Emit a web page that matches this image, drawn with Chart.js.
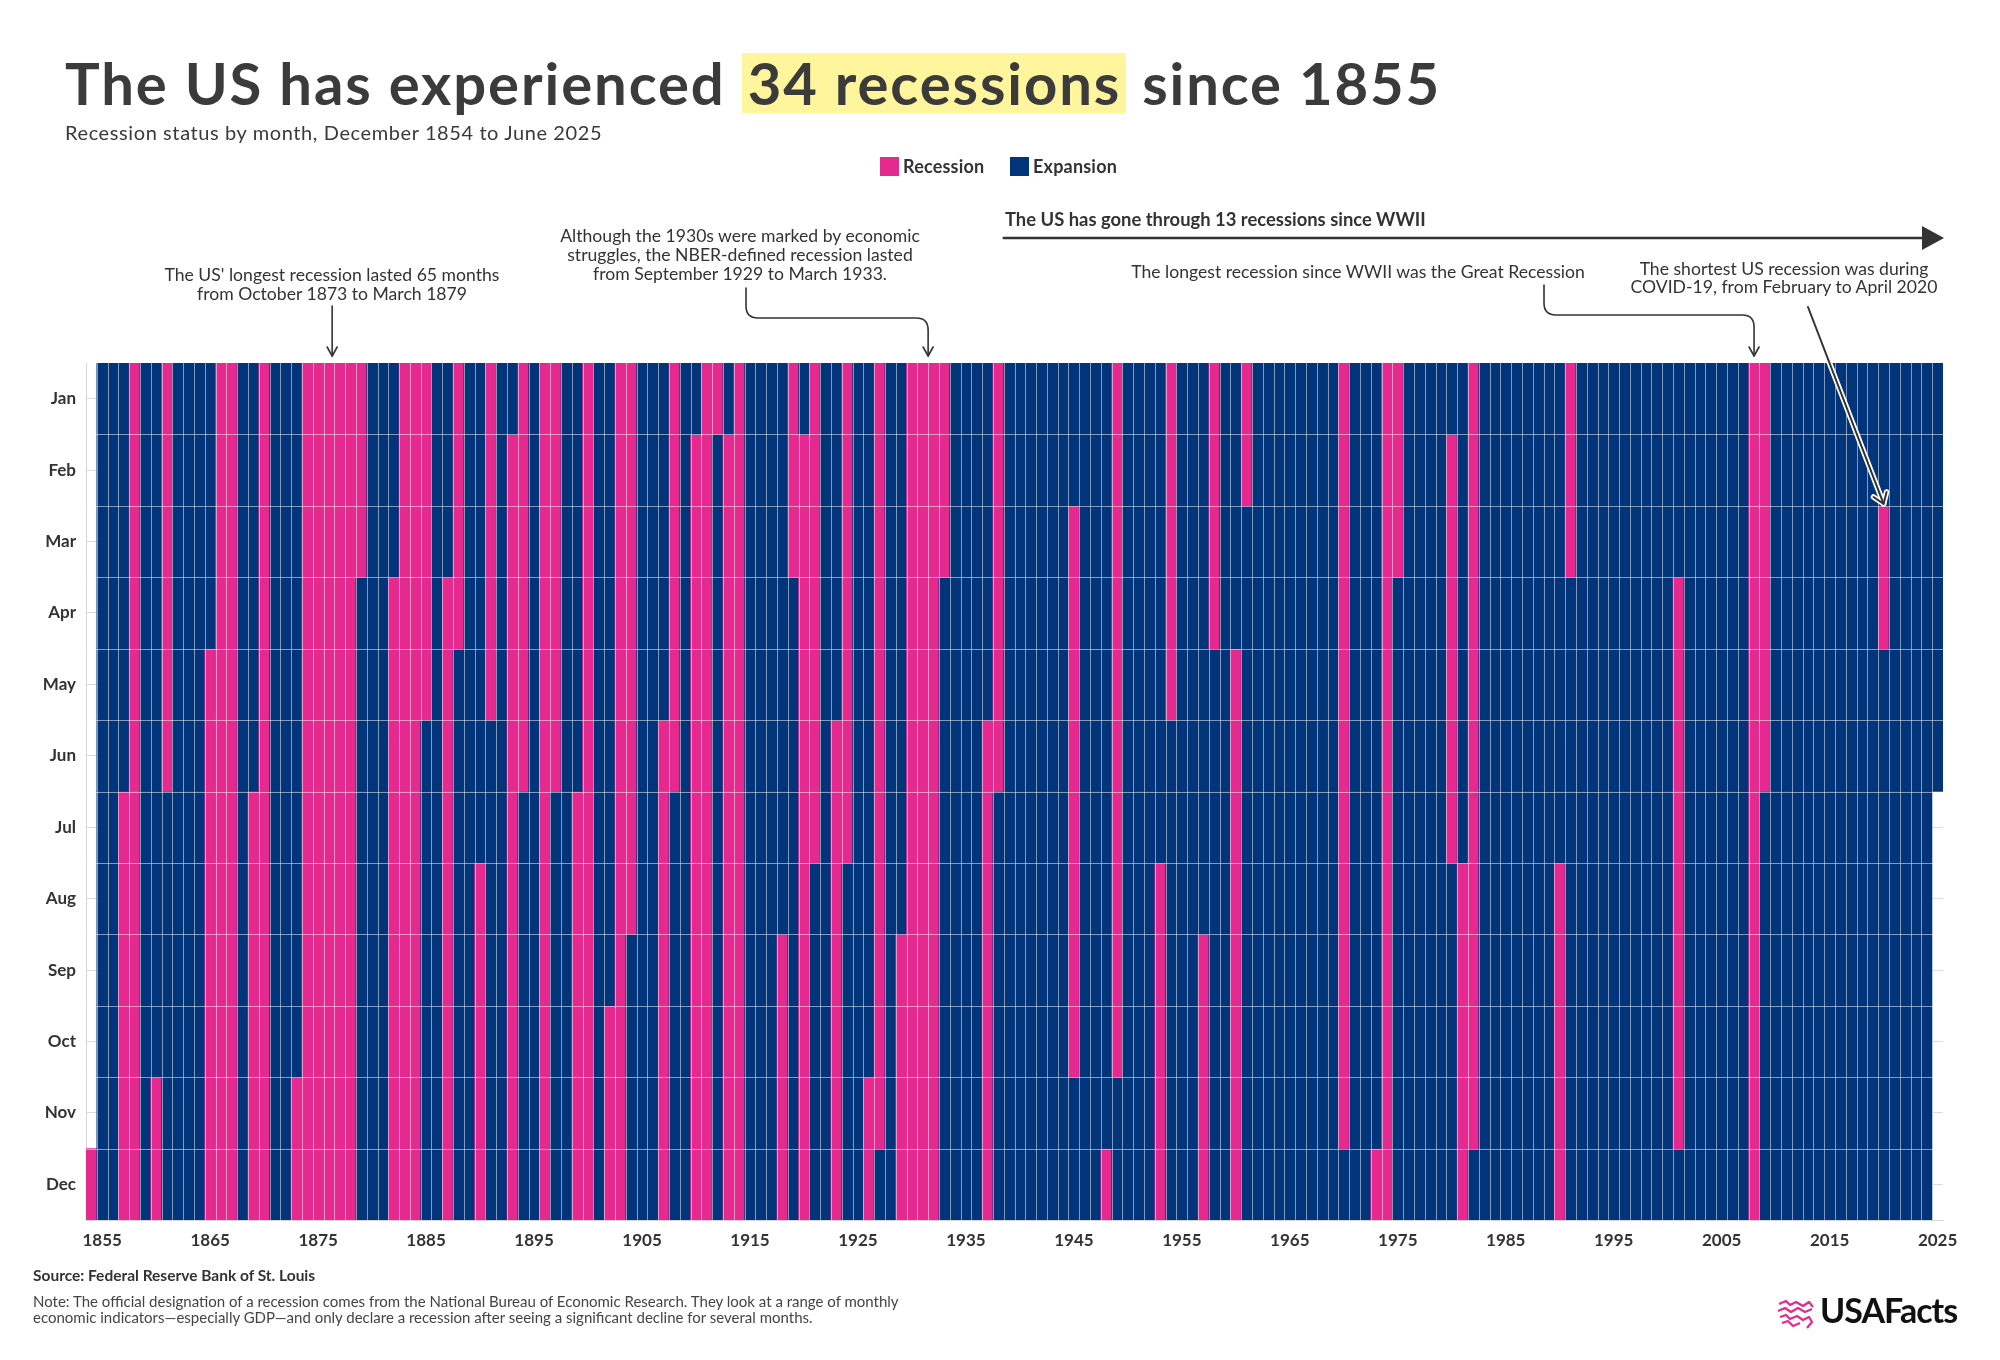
<!DOCTYPE html>
<html>
<head>
<meta charset="utf-8">
<script src="https://cdn.jsdelivr.net/npm/chart.js@4.4.1/dist/chart.umd.min.js"></script>
<style>
html, body { margin: 0; padding: 0; background: #fff; }
#page { position: relative; width: 2000px; height: 1360px; overflow: hidden; font-family: Lato, sans-serif; color: #333; }
#chartBox { position: absolute; left: 0; top: 0; width: 2000px; height: 1360px; }
.abs { position: absolute; white-space: nowrap; }
#title { left: 65px; top: 53px; font-size: 58px; font-weight: 700; color: #3b3b3b; line-height: 60px; letter-spacing: 1.9px; }
#title .hl { display: inline-block; background: #fff59d; padding: 0 5px 0 6px; line-height: 60px; }
#subtitle { left: 65px; top: 120px; font-size: 20px; color: #3a3a3a; letter-spacing: 0.6px; }
.legend { top: 157px; font-size: 18px; font-weight: 700; color: #333; line-height: 19px; letter-spacing: 0.2px; }
.legend i { display: inline-block; width: 19px; height: 19px; vertical-align: top; margin-right: 4px; }
.note { font-size: 17.6px; color: #333; text-align: center; line-height: 19px; }
#source { left: 33px; top: 1266px; font-size: 15.5px; font-weight: 700; color: #333; }
#footnote { left: 33px; top: 1294px; font-size: 15px; color: #444; line-height: 15.5px; }
#logo { left: 1776px; top: 1290px; font-size: 34px; font-weight: 700; color: #111; letter-spacing: -1px; line-height: 40px; }
#logo svg { vertical-align: middle; margin-right: 4px; }
</style>
</head>
<body>
<div id="page">
  <div id="chartBox"><canvas id="myChart"></canvas></div>

  <div id="title" class="abs">The US has experienced <span class="hl">34 recessions</span> since 1855</div>
  <div id="subtitle" class="abs">Recession status by month, December 1854 to June 2025</div>
  <div class="abs legend" style="left:880px"><i style="background:#e5298e"></i>Recession</div>
  <div class="abs legend" style="left:1010px"><i style="background:#023479"></i>Expansion</div>

  <div class="abs note" style="left:132px; top:265px; width:400px">The US' longest recession lasted 65 months<br>from October 1873 to March 1879</div>
  <div class="abs note" style="left:540px; top:226px; width:400px">Although the 1930s were marked by economic<br>struggles, the NBER-defined recession lasted<br>from September 1929 to March 1933.</div>
  <div class="abs" style="left:1005px; top:208px; font-size:18.4px; font-weight:700; color:#333">The US has gone through 13 recessions since WWII</div>
  <div class="abs note" style="left:1108px; top:262px; width:500px">The longest recession since WWII was the Great Recession</div>
  <div class="abs note" style="left:1614px; top:260px; width:340px; line-height:18px">The shortest US recession was during<br>COVID-19, from February to April 2020</div>

  <div id="source" class="abs">Source: Federal Reserve Bank of St. Louis</div>
  <div id="footnote" class="abs">Note: The official designation of a recession comes from the National Bureau of Economic Research. They look at a range of monthly<br>economic indicators—especially GDP—and only declare a recession after seeing a significant decline for several months.</div>
  <div id="logo" class="abs"><svg width="40" height="32" viewBox="0 0 40 32"><path d="M3 6 L10 3 L14 7 L20 4 L27 8 L33 4 L37 9 M2 13 L9 10 L15 14 L22 10 L29 14 L36 11 M4 19 L10 17 L14 21 L21 18 L27 22 L33 19 L36 24 L31 30 M6 25 L12 23 L17 28 L24 25" fill="none" stroke="#e5298e" stroke-width="2.2" stroke-linejoin="round"/></svg>USAFacts</div>
</div>

<script>
const months = ['Jan', 'Feb', 'Mar', 'Apr', 'May', 'Jun', 'Jul', 'Aug', 'Sep', 'Oct', 'Nov', 'Dec']
const firstYear = 1854
const lastYear = 2025
const dataStart = '1854-12'
const dataEnd = '2025-06'

// NBER recession months (month after the peak through the trough)
const recessionStarts = ['1854-12', '1857-07', '1860-11', '1865-05', '1869-07', '1873-11', '1882-04', '1887-04',
    '1890-08', '1893-02', '1896-01', '1899-07', '1902-10', '1907-06', '1910-02', '1913-02', '1918-09', '1920-02',
    '1923-06', '1926-11', '1929-09', '1937-06', '1945-03', '1948-12', '1953-08', '1957-09', '1960-05', '1970-01',
    '1973-12', '1980-02', '1981-08', '1990-08', '2001-04', '2008-01', '2020-03']
const recessionEnds = ['1854-12', '1858-12', '1861-06', '1867-12', '1870-12', '1879-03', '1885-05', '1888-04',
    '1891-05', '1894-06', '1897-06', '1900-12', '1904-08', '1908-06', '1912-01', '1914-12', '1919-03', '1921-07',
    '1924-07', '1927-11', '1933-03', '1938-06', '1945-10', '1949-10', '1954-05', '1958-04', '1961-02', '1970-11',
    '1975-03', '1980-07', '1982-11', '1991-03', '2001-11', '2009-06', '2020-04']

const colors = { recession: '#e5298e', expansion: '#023479', text: '#333', axis: '#d6d6d6' }

const ym = (s) => { const [y, m] = s.split('-').map(Number); return y * 12 + m - 1 }
const years = []
for (let y = firstYear; y <= lastYear; y++) years.push(String(y))

function cellState(year, mi) {
    const k = year * 12 + mi
    if (k < ym(dataStart) || k > ym(dataEnd)) return null
    for (let i = 0; i < recessionStarts.length; i++) {
        if (k >= ym(recessionStarts[i]) && k <= ym(recessionEnds[i])) return 'recession'
    }
    return 'expansion'
}

const datasets = months.map((m, mi) => ({
    label: m,
    data: years.map(y => cellState(+y, mi) ? [mi, mi + 1] : null),
    backgroundColor: years.map(y => colors[cellState(+y, mi) || 'expansion']),
    borderWidth: 0,
    grouped: false,
    barPercentage: 1,
    categoryPercentage: 1
}))

const separators = {
    id: 'separators',
    afterDatasetsDraw(chart) {
        const { ctx, chartArea: a, scales: { x, y } } = chart
        ctx.save()
        ctx.strokeStyle = 'rgba(255,255,255,0.5)'
        ctx.lineWidth = 1
        ctx.beginPath()
        for (let i = 1; i < years.length; i++) {
            const px = Math.round((x.getPixelForValue(i - 1) + x.getPixelForValue(i)) / 2) + 0.5
            ctx.moveTo(px, a.top); ctx.lineTo(px, a.bottom)
        }
        for (let r = 1; r < 12; r++) {
            const py = Math.round(y.getPixelForValue(r)) + 0.5
            ctx.moveTo(a.left, py); ctx.lineTo(a.right, py)
        }
        ctx.stroke()
        ctx.restore()
    }
}

function chevron(ctx, x, y, w, h) {
    ctx.beginPath()
    ctx.moveTo(x - w, y - h); ctx.lineTo(x, y); ctx.lineTo(x + w, y - h)
    ctx.stroke()
}

const arrows = {
    id: 'arrows',
    afterDraw(chart) {
        const { ctx, chartArea: a, scales: { x, y } } = chart
        const colW = x.getPixelForValue(1) - x.getPixelForValue(0)
        const col = (yr) => x.getPixelForValue(yr - firstYear)
        const tipY = a.top - 7
        ctx.save()
        ctx.strokeStyle = '#333'
        ctx.fillStyle = '#333'
        ctx.lineWidth = 1.6
        ctx.lineCap = 'round'
        ctx.lineJoin = 'round'

        // 1873-1879 recession
        const x1 = col(1876) + colW * 0.3
        ctx.beginPath(); ctx.moveTo(x1, 306); ctx.lineTo(x1, tipY); ctx.stroke()
        chevron(ctx, x1, tipY, 5, 9)

        // Great Depression
        const x2 = col(1931) + colW / 2
        ctx.beginPath()
        ctx.moveTo(746, 288); ctx.lineTo(746, 306)
        ctx.quadraticCurveTo(746, 318, 758, 318)
        ctx.lineTo(x2 - 12, 318)
        ctx.quadraticCurveTo(x2, 318, x2, 330)
        ctx.lineTo(x2, tipY)
        ctx.stroke()
        chevron(ctx, x2, tipY, 5, 9)

        // Great Recession
        const x4 = col(2008)
        ctx.beginPath()
        ctx.moveTo(1544, 285); ctx.lineTo(1544, 303)
        ctx.quadraticCurveTo(1544, 315, 1556, 315)
        ctx.lineTo(x4 - 12, 315)
        ctx.quadraticCurveTo(x4, 315, x4, 327)
        ctx.lineTo(x4, tipY)
        ctx.stroke()
        chevron(ctx, x4, tipY, 5, 9)

        // Since WWII
        const x3 = col(1939) - colW / 2
        ctx.lineWidth = 2.5
        ctx.beginPath(); ctx.moveTo(x3, 238); ctx.lineTo(a.right - 18, 238); ctx.stroke()
        ctx.beginPath()
        ctx.moveTo(a.right + 1, 238); ctx.lineTo(a.right - 21, 226); ctx.lineTo(a.right - 21, 250); ctx.closePath()
        ctx.fill()

        // COVID-19
        const x5 = col(2020)
        const y5 = y.getPixelForValue(2) - 2
        const sx = 1808, sy = 307
        const ang = Math.atan2(y5 - sy, x5 - sx)
        const hw = 7, hl = 10
        const hx1 = x5 - hl * Math.cos(ang) + hw * Math.sin(ang), hy1 = y5 - hl * Math.sin(ang) - hw * Math.cos(ang)
        const hx2 = x5 - hl * Math.cos(ang) - hw * Math.sin(ang), hy2 = y5 - hl * Math.sin(ang) + hw * Math.cos(ang)
        const drawCovid = () => {
            ctx.beginPath(); ctx.moveTo(sx, sy); ctx.lineTo(x5, y5); ctx.stroke()
            ctx.beginPath(); ctx.moveTo(hx1, hy1); ctx.lineTo(x5, y5); ctx.lineTo(hx2, hy2); ctx.stroke()
        }
        ctx.strokeStyle = '#fff'; ctx.lineWidth = 5.5
        drawCovid()
        ctx.strokeStyle = '#333'; ctx.lineWidth = 2
        drawCovid()
        ctx.restore()
    }
}

const chartOptions = {
    responsive: true,
    maintainAspectRatio: false,
    animation: false,
    layout: { padding: { top: 363, right: 57, bottom: 0, left: 0 } },
    plugins: { legend: { display: false }, tooltip: { enabled: false } },
    scales: {
        x: {
            type: 'category',
            afterFit: (s) => { s.height = 140 },
            grid: { display: false, drawTicks: false },
            border: { display: true, color: colors.axis },
            ticks: {
                autoSkip: false,
                maxRotation: 0,
                padding: 10,
                color: colors.text,
                font: { family: 'Lato', size: 17, weight: 'bold' },
                callback: function (v, i) { const yr = years[i]; return (+yr) % 10 === 5 ? yr : '' }
            }
        },
        y: {
            type: 'linear',
            min: 0,
            max: 12,
            reverse: true,
            afterFit: (s) => { s.width = 86 },
            afterBuildTicks: (s) => { s.ticks = months.map((m, i) => ({ value: i + 0.5 })) },
            grid: { color: '#dcdcdc', drawTicks: false },
            border: { display: true, color: colors.axis },
            ticks: {
                padding: 10,
                color: colors.text,
                font: { family: 'Lato', size: 17, weight: 'bold' },
                callback: (v) => months[Math.floor(v)]
            }
        }
    }
}

const ctx = document.getElementById('myChart')
const chart = new Chart(ctx, {
    type: 'bar',
    data: { labels: years, datasets: datasets },
    options: chartOptions,
    plugins: [separators, arrows]
})
</script>
</body>
</html>
